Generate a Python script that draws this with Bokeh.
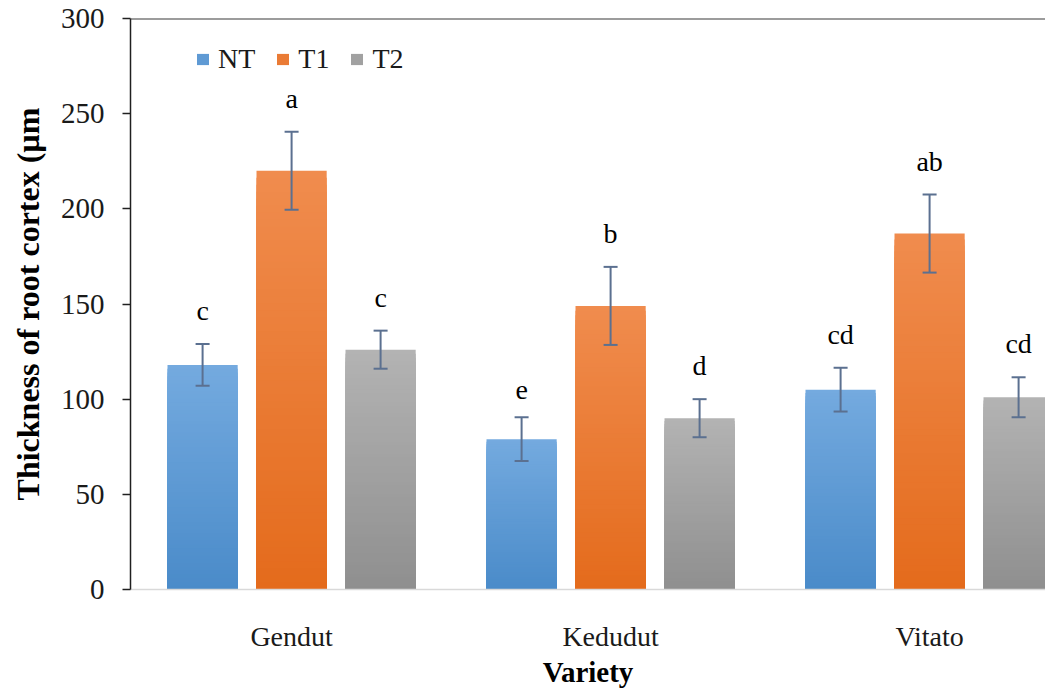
import numpy as np
from bokeh.plotting import figure
from bokeh.models import (Range1d, ColumnDataSource, Whisker, TeeHead, Span,
                          Legend, LegendItem, FixedTicker)
from bokeh.core.properties import value
from bokeh.embed import file_html
from bokeh.resources import INLINE

# ---------------- data ----------------
varieties = ["Gendut", "Kedudut", "Vitato"]
treatments = ["NT", "T1", "T2"]
nt = [118, 79, 105]
t1 = [220, 149, 187]
t2 = [126, 90, 101]
nt_err = [11, 11.5, 11.5]
t1_err = [20.5, 20.5, 20.5]
t2_err = [10, 10, 10.5]
nt_letters = ["c", "e", "cd"]
t1_letters = ["a", "b", "ab"]
t2_letters = ["c", "d", "cd"]
y_ticks = [0, 50, 100, 150, 200, 250, 300]

# ---------------- styling ----------------
FONT = "Liberation Serif"
series = [
    ("NT", nt, nt_err, nt_letters, -0.279, "#4a8bc9", "#74aadf"),
    ("T1", t1, t1_err, t1_letters, 0.0, "#e46b1c", "#f08c4e"),
    ("T2", t2, t2_err, t2_letters, 0.279, "#8f8f8f", "#b3b3b3"),
]
BAR_W = 0.22
N_SLICES = 60
ERR_COLOR = "#5b7090"


def hex2rgb(h):
    h = h.lstrip("#")
    return np.array([int(h[i:i + 2], 16) for i in (0, 2, 4)], dtype=float)


def mix(c0, c1, t):
    a, b = hex2rgb(c0), hex2rgb(c1)
    c = a + (b - a) * t
    return "#%02x%02x%02x" % tuple(int(round(v)) for v in c)


FRAME_W = 915
PX_PER_CAT = 319.0
p = figure(frame_width=FRAME_W, frame_height=571,
           x_range=Range1d(-0.005, FRAME_W / PX_PER_CAT - 0.005), y_range=Range1d(0, 300),
           output_backend="svg", toolbar_location=None,
           min_border_left=130, min_border_top=18, min_border_right=0,
           min_border_bottom=100)
p.outline_line_color = None
p.grid.visible = False
p.background_fill_color = "white"
p.border_fill_color = "white"

legend_items = []
centers = np.arange(len(varieties)) + 0.5

for name, vals, errs, letters, off, c_bot, c_top in series:
    left, right, bottom, top, colors = [], [], [], [], []
    for k in range(N_SLICES):
        frac = (N_SLICES - k) / N_SLICES
        col = mix(c_bot, c_top, frac - 0.5 / N_SLICES)
        for i, v in enumerate(vals):
            cx = centers[i] + off
            left.append(cx - BAR_W / 2)
            right.append(cx + BAR_W / 2)
            bottom.append(0)
            top.append(v * frac)
            colors.append(col)
    src = ColumnDataSource(dict(left=left, right=right, bottom=bottom, top=top, color=colors))
    r = p.quad(left="left", right="right", bottom="bottom", top="top",
               fill_color="color", line_color=None, source=src)
    legend_items.append(LegendItem(label=name, renderers=[r],
                                   index=(N_SLICES // 2) * len(vals)))

    base = [c + off for c in centers]
    upper = [v + e for v, e in zip(vals, errs)]
    lower = [v - e for v, e in zip(vals, errs)]
    esrc = ColumnDataSource(dict(base=base, upper=upper, lower=lower, letter=letters))
    w = Whisker(base="base", upper="upper", lower="lower", source=esrc, level="overlay",
                line_color=ERR_COLOR, line_width=2,
                upper_head=TeeHead(size=14, line_color=ERR_COLOR, line_width=2),
                lower_head=TeeHead(size=14, line_color=ERR_COLOR, line_width=2))
    p.add_layout(w)
    p.text(x="base", y="upper", text="letter", source=esrc,
           text_font=value(FONT), text_font_size="28px", text_color="black",
           text_align="center", text_baseline="bottom", y_offset=-18)

# top border line at 300
p.add_layout(Span(location=300, dimension="width", line_color="#3a3a3a", line_width=2))

# y axis
p.yaxis.ticker = FixedTicker(ticks=y_ticks)
p.yaxis.major_tick_out = 8
p.yaxis.major_tick_in = 0
p.yaxis.minor_tick_line_color = None
p.yaxis.axis_line_color = "#202020"
p.yaxis.axis_line_width = 1.5
p.yaxis.major_tick_line_color = "#202020"
p.yaxis.major_tick_line_width = 1.5
p.yaxis.major_label_text_font = FONT
p.yaxis.major_label_text_font_size = "29px"
p.yaxis.major_label_text_color = "#1a1a1a"
p.yaxis.major_label_standoff = 18
p.yaxis.axis_label = "Thickness of root cortex (µm"
p.yaxis.axis_label_text_font = FONT
p.yaxis.axis_label_text_font_style = "bold"
p.yaxis.axis_label_text_font_size = "32px"
p.yaxis.axis_label_text_color = "black"
p.yaxis.axis_label_standoff = 12

# x axis
p.xaxis.ticker = FixedTicker(ticks=list(centers))
p.xaxis.major_label_overrides = {float(c): v for c, v in zip(centers, varieties)}
p.xaxis.major_tick_line_color = None
p.xaxis.minor_tick_line_color = None
p.xaxis.axis_line_color = "#d9d9d9"
p.xaxis.axis_line_width = 1.5
p.xaxis.major_label_text_font = FONT
p.xaxis.major_label_text_font_size = "28px"
p.xaxis.major_label_text_color = "#1a1a1a"
p.xaxis.major_label_standoff = 25
p.xaxis.axis_label = "Variety"
p.xaxis.axis_label_text_font = FONT
p.xaxis.axis_label_text_font_style = "bold"
p.xaxis.axis_label_text_font_size = "29px"
p.xaxis.axis_label_text_color = "black"
p.xaxis.axis_label_standoff = 1

legend = Legend(items=legend_items, orientation="horizontal", location=(65, 514),
                border_line_color=None, background_fill_alpha=0,
                label_text_font=FONT, label_text_font_size="28px",
                label_text_color="#1a1a1a",
                glyph_width=15, glyph_height=14, spacing=20, padding=0, margin=0,
                label_standoff=8)
p.add_layout(legend)

open("out.html", "w").write(file_html(p, INLINE))
